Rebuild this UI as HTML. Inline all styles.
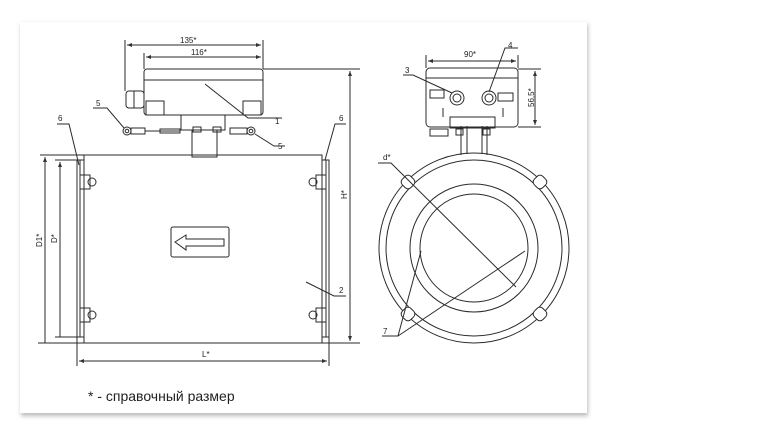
<!DOCTYPE html>
<html><head><meta charset="utf-8"><style>
html,body{margin:0;padding:0;background:#fff;}
svg{display:block;}
text{font-family:"Liberation Sans",sans-serif;fill:#222;}
</style></head><body>
<svg width="780" height="439" viewBox="0 0 780 439" xmlns="http://www.w3.org/2000/svg">
<defs>
<filter id="sh" x="-5%" y="-5%" width="110%" height="110%"><feGaussianBlur stdDeviation="2"/></filter>
<marker id="a" markerWidth="6" markerHeight="6" refX="5" refY="3" orient="auto"><path d="M0,1 L5,3 L0,5z" fill="#333"/></marker>
</defs>
<rect x="21" y="24" width="567" height="392" fill="#bbb" filter="url(#sh)"/>
<rect x="20" y="22" width="567" height="391" fill="#fff"/>
<g stroke="#2a2a2a" stroke-width="1" fill="none">
<rect x="84" y="155" width="238" height="188"/>
<rect x="77" y="160" width="7" height="177"/>
<line x1="80" y1="160" x2="80" y2="337"/>
<rect x="322" y="160" width="7" height="177"/>
<line x1="326" y1="160" x2="326" y2="337"/>
<g>
<rect x="80" y="175" width="10" height="14"/><circle cx="92" cy="182" r="4"/>
<rect x="80" y="308" width="10" height="14"/><circle cx="92" cy="315" r="4"/>
<rect x="316" y="175" width="10" height="14"/><circle cx="313" cy="182" r="4"/>
<rect x="316" y="308" width="10" height="14"/><circle cx="313" cy="315" r="4"/>
</g>
<rect x="171" y="227" width="58" height="30" rx="2"/>
<path d="M175,242 L186,235 L186,239 L224,239 L224,246 L186,246 L186,250 Z"/>
<line x1="40" y1="155" x2="84" y2="155"/>
<line x1="55" y1="160" x2="77" y2="160"/>
<line x1="38" y1="343" x2="360" y2="343"/>
<line x1="55" y1="337" x2="77" y2="337"/>
<line x1="45" y1="343" x2="45" y2="157" marker-end="url(#a)"/>
<line x1="60" y1="337" x2="60" y2="162" marker-end="url(#a)"/>
<line x1="77" y1="337" x2="77" y2="366"/>
<line x1="329" y1="337" x2="329" y2="366"/>
<line x1="203" y1="361" x2="79" y2="361" marker-end="url(#a)"/>
<line x1="203" y1="361" x2="327" y2="361" marker-end="url(#a)"/>
<line x1="263" y1="69" x2="360" y2="69"/>
<line x1="350" y1="200" x2="350" y2="71" marker-end="url(#a)"/>
<line x1="350" y1="200" x2="350" y2="341" marker-end="url(#a)"/>
<rect x="144" y="69" width="119" height="46" rx="3"/>
<line x1="144" y1="80" x2="263" y2="80"/>
<rect x="146" y="101" width="18" height="14"/>
<rect x="243" y="101" width="18" height="14"/>
<rect x="126" y="91" width="18" height="17" rx="3"/>
<line x1="134" y1="91" x2="134" y2="108"/>
<rect x="181" y="115" width="44" height="15"/>
<rect x="192" y="130" width="25" height="27"/>
<circle cx="127" cy="131" r="4"/><circle cx="127" cy="131" r="1.8"/>
<rect x="131" y="128" width="14" height="6"/><line x1="145" y1="131" x2="180" y2="131"/>
<rect x="160" y="129" width="20" height="4"/>
<circle cx="251" cy="131" r="4"/><circle cx="251" cy="131" r="1.8"/>
<rect x="230" y="128" width="17" height="6"/>
<rect x="193" y="127" width="8" height="5"/><rect x="213" y="127" width="8" height="5"/>
<line x1="125" y1="40" x2="125" y2="91"/>
<line x1="144" y1="53" x2="144" y2="69"/>
<line x1="263" y1="40" x2="263" y2="69"/>
<line x1="190" y1="45" x2="127" y2="45" marker-end="url(#a)"/>
<line x1="190" y1="45" x2="261" y2="45" marker-end="url(#a)"/>
<line x1="200" y1="57" x2="146" y2="57" marker-end="url(#a)"/>
<line x1="200" y1="57" x2="261" y2="57" marker-end="url(#a)"/>
<polyline points="93,108 107,108 124,128"/>
<polyline points="205,84 248,118 282,118"/>
<polyline points="255,134 274,146 285,146"/>
<polyline points="57,124 69,124 79,165"/>
<polyline points="346,124 335,124 325,160"/>
<polyline points="306,282 334,296 346,296"/>
<circle cx="474" cy="248" r="95"/>
<circle cx="474" cy="248" r="88"/>
<circle cx="474" cy="248" r="64"/>
<circle cx="474" cy="248" r="54"/>
<g fill="#fff">
<rect x="402" y="176" width="12" height="12" rx="4" transform="rotate(45 408 182)"/>
<rect x="534" y="176" width="12" height="12" rx="4" transform="rotate(45 540 182)"/>
<rect x="402" y="308" width="12" height="12" rx="4" transform="rotate(45 408 314)"/>
<rect x="534" y="308" width="12" height="12" rx="4" transform="rotate(45 540 314)"/>
</g>
<line x1="461" y1="126" x2="461" y2="155"/><line x1="467" y1="126" x2="467" y2="154"/>
<line x1="482" y1="126" x2="482" y2="154"/><line x1="487" y1="126" x2="487" y2="155"/>
<rect x="426" y="68" width="92" height="59" rx="4"/>
<line x1="426" y1="78" x2="518" y2="78"/>
<rect x="430" y="90" width="14" height="8"/>
<rect x="498" y="93" width="15" height="8"/>
<circle cx="457" cy="98" r="7"/><circle cx="457" cy="98" r="4"/>
<circle cx="489" cy="98" r="7"/><circle cx="489" cy="98" r="4"/>
<line x1="443" y1="108" x2="443" y2="117"/><line x1="503" y1="108" x2="503" y2="117"/>
<rect x="450" y="117" width="45" height="11"/>
<rect x="430" y="129" width="18" height="7"/>
<rect x="456" y="129" width="7" height="6"/><rect x="483" y="129" width="7" height="6"/>
<line x1="426" y1="55" x2="426" y2="68"/><line x1="518" y1="55" x2="518" y2="68"/>
<line x1="472" y1="61" x2="428" y2="61" marker-end="url(#a)"/>
<line x1="472" y1="61" x2="516" y2="61" marker-end="url(#a)"/>
<line x1="518" y1="69" x2="541" y2="69"/><line x1="518" y1="127" x2="541" y2="127"/>
<line x1="535" y1="98" x2="535" y2="71" marker-end="url(#a)"/>
<line x1="535" y1="98" x2="535" y2="125" marker-end="url(#a)"/>
<polyline points="403,75 413,75 452,93"/>
<polyline points="518,48 505,48 489,92"/>
<polyline points="378,163 391,163 516,287"/>
<polyline points="382,336 398,336 421,251"/>
<line x1="398" y1="336" x2="525" y2="251"/>
</g>
<g font-size="8">
<text x="180" y="43">135*</text>
<text x="191" y="55">116*</text>
<text x="275" y="124">1</text>
<text x="96" y="106">5</text>
<text x="278" y="149">5</text>
<text x="58" y="121">6</text>
<text x="339" y="121">6</text>
<text x="339" y="293">2</text>
<text x="202" y="357">L*</text>
<text transform="translate(42,247) rotate(-90)">D1*</text>
<text transform="translate(57,243) rotate(-90)">D*</text>
<text transform="translate(347,199) rotate(-90)">H*</text>
<text x="464" y="57">90*</text>
<text x="405" y="73">3</text>
<text x="508" y="48">4</text>
<text x="383" y="160">d*</text>
<text x="383" y="334">7</text>
<text transform="translate(534,107) rotate(-90)">56,5*</text>
</g>
<text x="88" y="401" font-size="14">* - справочный размер</text>
</svg>
</body></html>
